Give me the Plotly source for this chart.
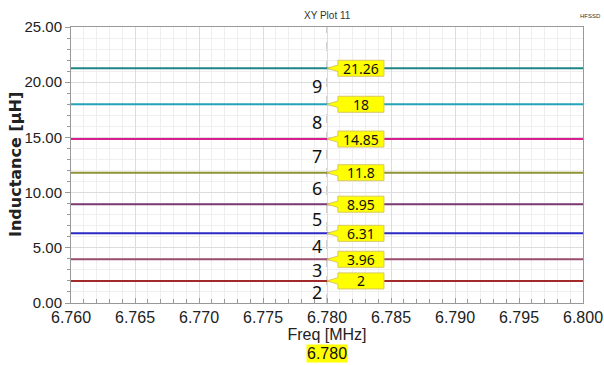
import plotly.graph_objects as go

# Sweep range and marker
freq = [6.760, 6.800]
marker_freq = 6.780

# Inductance of each winding configuration (µH), numbered 2..9
config_ids = [2, 3, 4, 5, 6, 7, 8, 9]
inductance = [2.0, 3.96, 6.31, 8.95, 11.8, 14.85, 18.0, 21.26]
marker_labels = ["2", "3.96", "6.31", "8.95", "11.8", "14.85", "18", "21.26"]
colors = ["#a32a2a", "#9a4d6e", "#2a2ac4", "#7b3a72", "#8f9433",
          "#d81f8f", "#22a3b9", "#1d8585"]

x_ticks = [6.760, 6.765, 6.770, 6.775, 6.780, 6.785, 6.790, 6.795, 6.800]
y_ticks = [0, 5, 10, 15, 20, 25]

fig = go.Figure()

for val, col in zip(inductance, colors):
    fig.add_trace(go.Scatter(x=freq, y=[val, val], mode="lines",
                             line=dict(color=col, width=2),
                             showlegend=False, hoverinfo="skip"))

# Marker callouts: yellow pentagon pointing at the marker line
box_dx0 = 0.00085   # gap from marker to box left edge (MHz)
box_w = 0.0036      # box width (MHz)
box_h = 1.45        # box height (µH)
shapes = []
annotations = []
for val, lab in zip(inductance, marker_labels):
    L = marker_freq + box_dx0
    R = L + box_w
    top = val + box_h / 2
    bot = val - box_h / 2
    path = (f"M {marker_freq},{val} L {L},{val + box_h * 0.2} L {L},{top} "
            f"L {R},{top} L {R},{bot} L {L},{bot} L {L},{val - box_h * 0.2} Z")
    shapes.append(dict(type="path", path=path, xref="x", yref="y",
                       fillcolor="#ffff00", line=dict(color="#d8c860", width=1),
                       layer="above"))
    annotations.append(dict(x=(L + R) / 2, y=val, xref="x", yref="y",
                            text=lab, showarrow=False,
                            font=dict(family="Noto Sans", size=14, color="#111111")))

# Configuration numbers between neighbouring curves
lower = [0.0] + inductance[:-1]
for cid, hi, lo in zip(config_ids, inductance, lower):
    annotations.append(dict(x=marker_freq, y=(hi + lo) / 2, xref="x", yref="y",
                            text=str(cid), showarrow=False, xanchor="right",
                            xshift=-3,
                            font=dict(family="Noto Sans", size=18, color="#111111")))

# Marker line
shapes.append(dict(type="line", x0=marker_freq, x1=marker_freq, y0=0, y1=1,
                   xref="x", yref="paper",
                   line=dict(color="#a0a0a0", width=1, dash="dash"), layer="below"))

# Titles and marker readout
annotations += [
    dict(x=marker_freq, y=1, xref="x", yref="paper", yanchor="bottom", yshift=4,
         text="XY Plot 11", showarrow=False,
         font=dict(family="Liberation Sans", size=10, color="#333333")),
    dict(x=1.0, y=1, xref="paper", yref="paper", xanchor="right", yanchor="bottom",
         xshift=20, yshift=6, text="HFSSD", showarrow=False,
         font=dict(family="Liberation Sans", size=6, color="#333333")),
    dict(x=marker_freq, y=0, xref="x", yref="paper", yanchor="top", yshift=-41,
         text="6.780", showarrow=False, bgcolor="#ffff00", borderpad=0,
         font=dict(family="Liberation Sans", size=16, color="#111111")),
    dict(x=0, y=0.5, xref="paper", yref="paper", xanchor="center", yanchor="middle",
         xshift=-56, textangle=-90, text="<b>Inductance [µH]</b>", showarrow=False,
         font=dict(family="DejaVu Sans", size=16, color="#222222")),
]

fig.update_layout(
    width=604, height=365,
    margin=dict(l=71, r=21, t=27, b=62, autoexpand=False),
    paper_bgcolor="white", plot_bgcolor="white",
    shapes=shapes, annotations=annotations,
    font=dict(family="Liberation Sans", color="#222222"),
)

fig.update_xaxes(
    range=[freq[0], freq[1]], tickvals=x_ticks, automargin=False,
    ticktext=[f"{v:.3f}" for v in x_ticks],
    tickfont=dict(size=16, color="#222222"),
    showgrid=True, gridcolor="#dcdcdc", gridwidth=1,
    minor=dict(dtick=0.001, tick0=6.760, showgrid=True, gridcolor="#efefef",
               ticks="inside", ticklen=4, tickcolor="#999999"),
    ticks="inside", ticklen=5, tickcolor="#999999",
    showline=True, linecolor="#999999", mirror=True, zeroline=False,
    title=dict(text="Freq [MHz]", font=dict(size=16, color="#222222"), standoff=2),
)
fig.update_yaxes(
    range=[0, 25], tickvals=y_ticks, automargin=False,
    ticktext=[f"{v:.2f}" for v in y_ticks],
    tickfont=dict(size=15, color="#222222"),
    showgrid=True, gridcolor="#dcdcdc", gridwidth=1,
    minor=dict(dtick=1, tick0=0, showgrid=True, gridcolor="#efefef",
               ticks="outside", ticklen=3, tickcolor="#999999"),
    ticks="outside", ticklen=5, tickcolor="#999999",
    showline=True, linecolor="#999999", mirror=True, zeroline=False,
)

fig.write_html("out.html")
